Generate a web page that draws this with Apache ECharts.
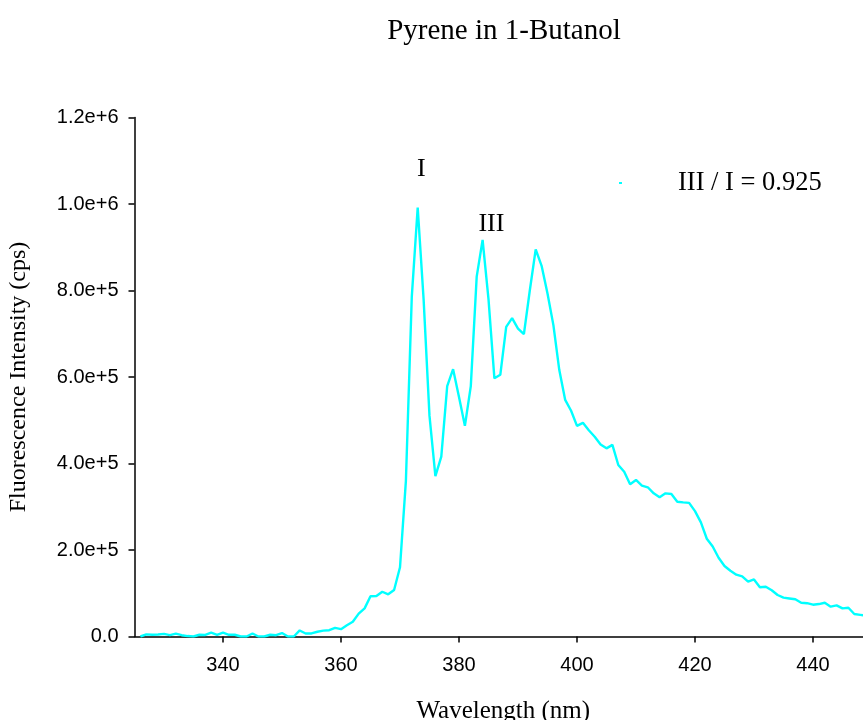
<!DOCTYPE html>
<html>
<head>
<meta charset="utf-8">
<script src="https://cdn.jsdelivr.net/npm/echarts@6/dist/echarts.min.js"></script>
<style>
  html, body { margin: 0; padding: 0; background: #fff; }
  #chart { width: 863px; height: 720px; }
</style>
</head>
<body>
<div id="chart"></div>
<script>
// Emission spectrum of pyrene in 1-butanol, 1 nm steps
const wavelengthStart = 326;
const intensity = [
  0, 5000, 4000, 4500, 6000, 3000, 6500, 3000, 1000, 0,            // 326-335
  4000, 3500, 9000, 4000, 9000, 4000, 4000, 0, 0, 7000,             // 336-345
  0, 0, 4000, 3000, 8000, 0, 0, 14000, 7000, 7000,                   // 346-355
  11000, 13500, 14500, 20000, 17000, 26000, 34000, 53000, 65000, 93000, // 356-365
  93500, 103500, 97500, 107500, 160000, 360000, 786000, 992000, 780000, 510000, // 366-375
  371000, 416000, 579000, 618000, 554000, 487000, 579000, 832000, 917000, 780000, // 376-385
  597000, 605000, 716000, 736000, 712000, 699000, 800000, 895000, 857000, 793000, // 386-395
  720000, 616000, 547000, 522000, 487000, 494000, 477000, 462000, 444000, 435000, // 396-405
  443000, 396500, 381000, 352000, 362000, 349000, 345000, 331000, 322000, 331000, // 406-415
  329500, 311700, 310000, 309000, 290000, 264000, 226000, 208000, 182000, 163000, // 416-425
  152000, 143000, 139000, 127000, 132000, 114000, 115000, 107000, 96000, 90000,   // 426-435
  88000, 86000, 78000, 77000, 73500, 75000, 78000, 69000, 72000, 65000,           // 436-445
  66500, 52000, 50000, 48000                                                      // 446-449
];
const xTicks = [340, 360, 380, 400, 420, 440];
const yTicks = [0, 200000, 400000, 600000, 800000, 1000000, 1200000];
const yTickLabels = ['0.0', '2.0e+5', '4.0e+5', '6.0e+5', '8.0e+5', '1.0e+6', '1.2e+6'];
const peakLabels = [
  { text: 'I', at: [373.6, 1080000] },
  { text: 'III', at: [385.5, 954000] }
];
const ratioText = 'III / I = 0.925';

const spectrum = intensity.map((v, i) => [wavelengthStart + i, v]);

const serif = '"Liberation Serif", "Times New Roman", serif';
const sans = '"Liberation Sans", Arial, sans-serif';

const chart = echarts.init(document.getElementById('chart'));
chart.setOption({
  animation: false,
  backgroundColor: '#ffffff',
  title: {
    text: 'Pyrene in 1-Butanol',
    left: 499,
    top: 12,
    textAlign: 'center',
    textStyle: { fontFamily: serif, fontSize: 29, fontWeight: 'normal', color: '#000' }
  },
  grid: {
    left: 134.5, top: 117.5, width: 737.5, height: 519,
    containLabel: false, outerBoundsMode: 'none'
  },
  xAxis: {
    type: 'value',
    min: 325,
    max: 450,
    name: 'Wavelength (nm)',
    nameLocation: 'middle',
    nameGap: 62,
    nameTextStyle: { fontFamily: serif, fontSize: 25, color: '#000' },
    axisLine: { show: true, lineStyle: { color: '#000', width: 1.5 } },
    axisTick: { show: true, length: 6, lineStyle: { color: '#000', width: 1.5 }, customValues: xTicks },
    axisLabel: { customValues: xTicks, fontFamily: sans, fontSize: 20, color: '#000', margin: 19 },
    splitLine: { show: false }
  },
  yAxis: {
    type: 'value',
    min: 0,
    max: 1200000,
    interval: 200000,
    name: 'Fluorescence Intensity (cps)',
    nameLocation: 'middle',
    nameGap: 104,
    nameTextStyle: { fontFamily: serif, fontSize: 24, color: '#000' },
    axisLine: { show: true, lineStyle: { color: '#000', width: 1.5 } },
    axisTick: { show: true, length: 6, lineStyle: { color: '#000', width: 1.5 } },
    axisLabel: {
      fontFamily: sans, fontSize: 20, color: '#000', margin: 16,
      formatter: v => yTickLabels[yTicks.indexOf(v)] ?? ''
    },
    splitLine: { show: false }
  },
  series: [{
    type: 'line',
    data: spectrum,
    showSymbol: false,
    symbol: 'none',
    lineStyle: { color: '#00FFFF', width: 2.4 },
    clip: true
  }]
});

// Peak annotations placed at data coordinates, plus the ratio note
const notes = peakLabels.map(p => {
  const [px, py] = chart.convertToPixel({ gridIndex: 0 }, p.at);
  return {
    type: 'text',
    x: px, y: py,
    style: { text: p.text, font: '26px ' + serif, fill: '#000', align: 'center', verticalAlign: 'middle' }
  };
});
notes.push({
  type: 'text',
  x: 678, y: 183,
  style: { text: ratioText, font: '26.5px ' + serif, fill: '#000', align: 'left', verticalAlign: 'middle' }
});
notes.push({
  type: 'rect',
  shape: { x: 619, y: 182, width: 3, height: 2 },
  style: { fill: '#00FFFF' }
});
chart.setOption({ graphic: notes });
</script>
</body>
</html>
